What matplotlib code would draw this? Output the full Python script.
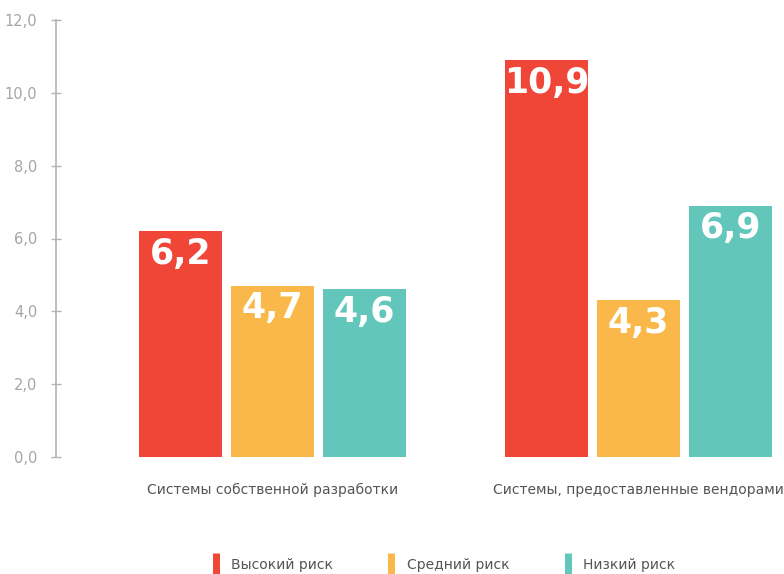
import numpy as np
import matplotlib.pyplot as plt
from matplotlib.lines import Line2D

# Данные
groups = ["Системы собственной разработки", "Системы, предоставленные вендорами"]
series = ["Высокий риск", "Средний риск", "Низкий риск"]
high = [6.2, 10.9]
medium = [4.7, 4.3]
low = [4.6, 6.9]
colors = ["#EF4638", "#FBB84A", "#62C6BA"]
yticks = [0, 2, 4, 6, 8, 10, 12]
ytick_labels = ["0,0", "2,0", "4,0", "6,0", "8,0", "10,0", "12,0"]

fig = plt.figure(figsize=(7.84, 5.74), dpi=100)
ax = fig.add_axes([56 / 784, 117 / 574, 728 / 784, 437 / 574])

x = np.arange(len(groups))
offset = 0.2514
width = 0.227

for i, (vals, c) in enumerate(zip([high, medium, low], colors)):
    pos = x + (i - 1) * offset
    bars = ax.bar(pos, vals, width=width, color=c)
    for b, v in zip(bars, vals):
        ax.annotate(f"{v:.1f}".replace(".", ","),
                    (b.get_x() + b.get_width() / 2, v),
                    xytext=(0, -4), textcoords="offset points",
                    ha="center", va="top", color="white",
                    fontsize=25, fontweight="bold", family="DejaVu Sans")

ax.set_xlim(-0.5915, 1.3975)
ax.set_ylim(0, 12)

# Оси
for s in ["top", "right", "bottom"]:
    ax.spines[s].set_visible(False)
ax.spines["left"].set_color("#b3b3b3")
ax.spines["left"].set_linewidth(1.2)
ax.set_yticks(yticks)
ax.set_yticklabels(ytick_labels)
ax.tick_params(axis="y", direction="inout", length=7, width=1, color="#b3b3b3",
               labelcolor="#a5a5a5", labelsize=10.5, pad=10)
ax.set_xticks(x)
ax.set_xticklabels(groups)
ax.tick_params(axis="x", length=0, labelcolor="#555555", labelsize=10, pad=19)

# Легенда
handles = [Line2D([], [], color=c, marker="|", markersize=16, mew=5, linestyle="None")
           for c in colors]
fig.legend(handles, series, loc="center", bbox_to_anchor=(442 / 784, 1 - 565 / 574),
           ncol=3, frameon=False, fontsize=10, labelcolor="#555555",
           handlelength=1, handletextpad=0.6, columnspacing=3.7)

plt.savefig("out.png", dpi=100)
